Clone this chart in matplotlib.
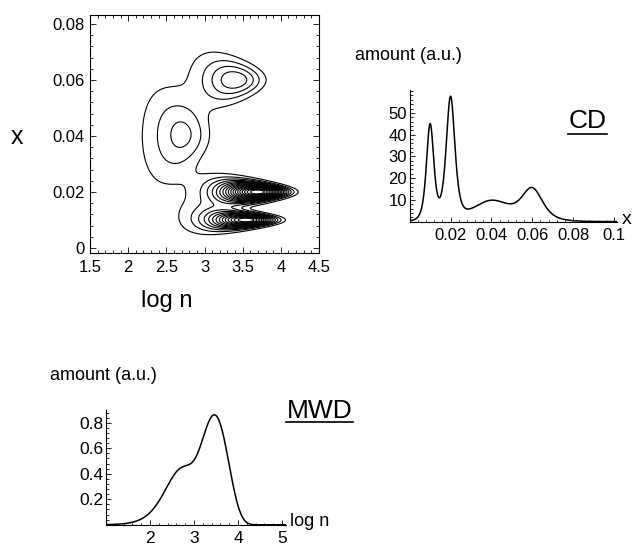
import numpy as np
import matplotlib
matplotlib.use("Agg")
import matplotlib.pyplot as plt
from matplotlib.ticker import FixedLocator, MultipleLocator, FuncFormatter

plt.rcParams['font.family'] = ['Liberation Sans', 'DejaVu Sans']

# Stockmayer bivariate distribution for four active site types
site_comonomer = [0.01, 0.02, 0.04, 0.06]   # mean comonomer fraction of each site
site_logn_peak = [3.45, 3.60, 2.60, 3.30]   # log n at the MWD maximum of each site
site_mass = [0.22, 0.33, 0.25, 0.20]        # mass fraction made by each site
kappa = 1.0                                 # Stockmayer composition-width constant

contour_xticks = [1.5, 2, 2.5, 3, 3.5, 4, 4.5]
contour_yticks = [0, 0.02, 0.04, 0.06, 0.08]
cd_xticks = [0.02, 0.04, 0.06, 0.08, 0.1]
cd_yticks = [10, 20, 30, 40, 50]
mwd_xticks = [2, 3, 4, 5]
mwd_yticks = [0.2, 0.4, 0.6, 0.8]
n_contours = 18

LN10 = np.log(10.0)


def site_params():
    for F, lp, m in zip(site_comonomer, site_logn_peak, site_mass):
        tau = 2.0 / 10.0 ** lp
        beta = F * (1.0 - F) * kappa
        yield F, tau, beta, m


def joint(logn, x):
    n = 10.0 ** logn
    w = np.zeros(np.broadcast(logn, x).shape)
    for F, tau, beta, m in site_params():
        wn = LN10 * (n * tau) ** 2 * np.exp(-n * tau)
        gx = np.sqrt(n / (2 * np.pi * beta)) * np.exp(-(x - F) ** 2 * n / (2 * beta))
        w += m * wn * gx
    return w


def cd(x):
    w = np.zeros_like(x)
    for F, tau, beta, m in site_params():
        s = 2 * beta * tau
        w += m * 3.0 / (4.0 * np.sqrt(s)) * (1 + (x - F) ** 2 / s) ** -2.5
    return w


def mwd(logn):
    n = 10.0 ** logn
    w = np.zeros_like(logn)
    for F, tau, beta, m in site_params():
        w += m * LN10 * (n * tau) ** 2 * np.exp(-n * tau)
    return w


fmt = FuncFormatter(lambda v, p: f"{v:g}")

fig = plt.figure(figsize=(6.32, 5.46), dpi=100)
W, H = 632.0, 546.0

# ---- bivariate contour map ----
ax1 = fig.add_axes([90 / W, 1 - 253 / H, 229 / W, 238 / H])
lg = np.linspace(1.5, 4.5, 1400)
xx = np.linspace(-0.0018, 0.0832, 1200)
LG, XX = np.meshgrid(lg, xx)
Z = joint(LG, XX)
zmax = Z.max()
levels = zmax * np.arange(1, n_contours + 1) / (n_contours + 1)
ax1.contour(LG, XX, Z, levels=levels, colors='black', linewidths=0.8)
ax1.set_xlim(1.5, 4.5)
ax1.set_ylim(-0.0018, 0.0832)
ax1.xaxis.set_major_locator(FixedLocator(contour_xticks))
ax1.yaxis.set_major_locator(FixedLocator(contour_yticks))
ax1.xaxis.set_minor_locator(MultipleLocator(0.1))
ax1.yaxis.set_minor_locator(MultipleLocator(0.004))
ax1.xaxis.set_major_formatter(fmt)
ax1.yaxis.set_major_formatter(fmt)
ax1.tick_params(which='both', direction='in', top=True, right=True, width=0.6)
ax1.tick_params(which='major', length=4, labelsize=12)
ax1.tick_params(which='minor', length=2)
ax1.tick_params(axis='x', pad=5)
ax1.tick_params(axis='y', pad=4)
for sp in ax1.spines.values():
    sp.set_linewidth(0.8)
fig.text(16.5 / W, 1 - 137 / H, 'x', fontsize=18, ha='center', va='center')
fig.text(167 / W, 1 - 301 / H, 'log n', fontsize=17, ha='center', va='center')

# ---- chemical composition distribution ----
ax2 = fig.add_axes([409.7 / W, 1 - 221.7 / H, 207.3 / W, 131.7 / H])
xc = np.linspace(0, 0.1015, 800)
ax2.plot(xc, cd(xc), color='black', lw=1.1)
ax2.set_xlim(0, 0.1015)
ax2.set_ylim(0, 60.5)
ax2.xaxis.set_major_locator(FixedLocator(cd_xticks))
ax2.yaxis.set_major_locator(FixedLocator(cd_yticks))
ax2.xaxis.set_minor_locator(MultipleLocator(0.004))
ax2.yaxis.set_minor_locator(MultipleLocator(2))
ax2.xaxis.set_major_formatter(fmt)
ax2.yaxis.set_major_formatter(fmt)

# ---- molecular weight distribution ----
ax3 = fig.add_axes([106 / W, 1 - 524.8 / H, 180 / W, 114.8 / H])
ln = np.linspace(1, 5.09, 800)
ax3.plot(ln, mwd(ln), color='black', lw=1.1)
ax3.set_xlim(1, 5.09)
ax3.set_ylim(0, 0.9)
ax3.xaxis.set_major_locator(FixedLocator(mwd_xticks))
ax3.yaxis.set_major_locator(FixedLocator(mwd_yticks))
ax3.xaxis.set_minor_locator(MultipleLocator(0.2))
ax3.yaxis.set_minor_locator(MultipleLocator(0.04))
ax3.xaxis.set_major_formatter(fmt)
ax3.yaxis.set_major_formatter(fmt)

for ax in (ax2, ax3):
    ax.spines['top'].set_visible(False)
    ax.spines['right'].set_visible(False)
    for sp in ('left', 'bottom'):
        ax.spines[sp].set_linewidth(0.8)
    ax.tick_params(which='both', direction='in', width=0.6)
    ax.tick_params(which='major', length=3.5)
    ax.tick_params(which='minor', length=1.8)
    ax.tick_params(axis='y', pad=2)
    ax.tick_params(axis='x', pad=4.5)

ax2.tick_params(which='major', labelsize=12)
ax3.tick_params(which='major', labelsize=12.5)

fig.text(355 / W, 1 - 55 / H, 'amount (a.u.)', fontsize=13, ha='left', va='center')
fig.text(627 / W, 1 - 219 / H, 'x', fontsize=14, ha='center', va='center')
fig.text(587.5 / W, 1 - 121.5 / H, 'CD', fontsize=19, ha='center', va='center')
fig.add_artist(plt.Line2D([568 / W, 607 / W], [1 - 133.5 / H, 1 - 133.5 / H], color='black', lw=1.2))

fig.text(50 / W, 1 - 376 / H, 'amount (a.u.)', fontsize=13, ha='left', va='center')
fig.text(290 / W, 1 - 521 / H, 'log n', fontsize=13, ha='left', va='center')
fig.text(319.5 / W, 1 - 411 / H, 'MWD', fontsize=19, ha='center', va='center')
fig.add_artist(plt.Line2D([286 / W, 353 / W], [1 - 421.5 / H, 1 - 421.5 / H], color='black', lw=1.2))

fig.savefig('out.png', dpi=100)
